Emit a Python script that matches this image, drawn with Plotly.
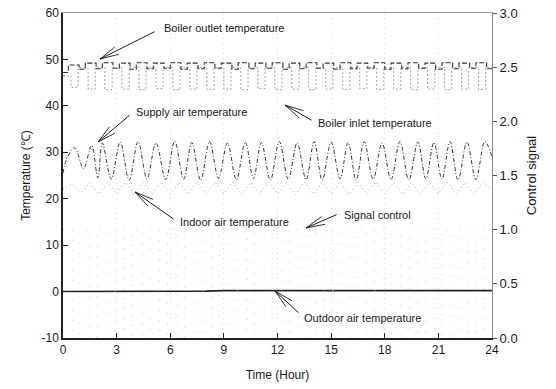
import math
import plotly.graph_objects as go

# ---------------- data ----------------
supply_t = [0.0, 0.2, 0.65, 1.15, 1.6, 1.95, 2.2, 2.7, 3.2, 3.7, 4.2, 4.7, 5.2, 5.75,
            6.25, 6.75, 7.2, 7.7, 8.2, 8.7, 9.2, 9.7, 10.2, 10.65, 11.1, 11.6, 12.1,
            12.6, 13.1, 13.6, 14.05, 14.5, 15.0, 15.5, 15.95, 16.4, 16.85, 17.35,
            17.85, 18.35, 18.85, 19.35, 19.85, 20.3, 20.75, 21.2, 21.65, 22.1, 22.6,
            23.1, 23.6, 24.0]
supply_v = [25.5, 28.5, 31.0, 26.5, 31.5, 24.5, 32.0, 24.2, 32.2, 24.0, 32.3, 24.3, 32.0,
            24.1, 32.4, 24.2, 32.1, 24.0, 32.3, 24.4, 32.0, 24.1, 32.2, 24.3, 32.1,
            24.0, 32.3, 24.2, 32.0, 24.1, 32.3, 24.0, 32.2, 24.3, 32.1, 24.0, 32.3,
            24.2, 32.0, 24.1, 32.3, 24.0, 32.2, 24.3, 32.1, 24.2, 32.3, 24.0, 32.2,
            24.1, 32.3, 29.0]

outlet_t = [0.0, 0.3, 0.9, 1.25, 1.85, 2.2, 2.8, 3.15, 3.75, 4.1, 4.7, 5.05, 5.65, 6.0,
            6.6, 6.95, 7.55, 7.9, 8.5, 8.85, 9.45, 9.8, 10.4, 10.75, 11.35, 11.7, 12.3,
            12.65, 13.25, 13.6, 14.2, 14.55, 15.15, 15.5, 16.1, 16.45, 17.05, 17.4,
            18.0, 18.35, 18.95, 19.3, 19.9, 20.25, 20.85, 21.2, 21.8, 22.15, 22.75,
            23.1, 23.7, 24.0]
outlet_v = [47.2, 48.8, 47.9, 49.2, 48.0, 49.3, 48.1, 49.2, 47.9, 49.3, 48.0, 49.2, 48.1,
            49.3, 47.9, 49.2, 48.0, 49.3, 48.1, 49.2, 47.9, 49.3, 48.0, 49.2, 48.1,
            49.3, 47.9, 49.2, 48.0, 49.3, 48.1, 49.2, 47.9, 49.3, 48.0, 49.2, 48.1,
            49.3, 47.9, 49.2, 48.0, 49.3, 48.1, 49.2, 47.9, 49.3, 48.0, 49.2, 48.1,
            49.3, 48.0, 48.0]

inlet_t = [0.0, 0.45, 0.85, 1.4, 1.8, 2.35, 2.75, 3.3, 3.7, 4.25, 4.65, 5.2, 5.6, 6.15,
           6.55, 7.1, 7.5, 8.05, 8.45, 9.0, 9.4, 9.95, 10.35, 10.9, 11.3, 11.85, 12.25,
           12.8, 13.2, 13.75, 14.15, 14.7, 15.1, 15.65, 16.05, 16.6, 17.0, 17.55, 17.95,
           18.5, 18.9, 19.45, 19.85, 20.4, 20.8, 21.35, 21.75, 22.3, 22.7, 23.25,
           23.65, 24.0]
inlet_v = [46.5, 44.0, 48.2, 43.6, 48.3, 43.5, 48.2, 43.6, 48.3, 43.5, 48.2, 43.7, 48.3,
           43.5, 48.2, 43.6, 48.3, 43.5, 48.2, 43.6, 48.3, 43.5, 48.2, 43.7, 48.3,
           43.5, 48.2, 43.6, 48.3, 43.5, 48.2, 43.6, 48.3, 43.5, 48.2, 43.7, 48.3,
           43.5, 48.2, 43.6, 48.3, 43.5, 48.2, 43.6, 48.3, 43.5, 48.2, 43.6, 48.3,
           43.5, 48.2, 48.2]

indoor_t = [0.0, 0.5, 1.0, 1.5, 2.0, 2.5, 3.0, 3.5, 4.0, 4.5, 5.0, 5.5, 6.0, 6.5, 7.0,
            7.5, 8.0, 8.5, 9.0, 9.5, 10.0, 10.5, 11.0, 11.5, 12.0, 12.5, 13.0, 13.5,
            14.0, 14.5, 15.0, 15.5, 16.0, 16.5, 17.0, 17.5, 18.0, 18.5, 19.0, 19.5,
            20.0, 20.5, 21.0, 21.5, 22.0, 22.5, 23.0, 23.5, 24.0]
indoor_v = [22.0, 23.2, 21.3, 23.4, 21.0, 23.5, 21.1, 23.6, 20.9, 23.5, 21.0, 23.6, 21.1,
            23.5, 20.9, 23.6, 21.0, 23.5, 21.1, 23.6, 20.9, 23.5, 21.0, 23.6, 21.1,
            23.5, 20.9, 23.6, 21.0, 23.5, 21.1, 23.6, 20.9, 23.5, 21.0, 23.6, 21.1,
            23.5, 20.9, 23.6, 21.0, 23.5, 21.1, 23.6, 20.9, 23.5, 21.0, 23.6, 22.0]

signal_t = [0.0, 0.55, 0.95, 1.5, 1.9, 2.45, 2.9, 3.45, 3.9, 4.45, 4.85, 5.4, 5.85, 6.4,
            6.8, 7.35, 7.8, 8.35, 8.75, 9.3, 9.75, 10.3, 10.7, 11.25, 11.7, 12.25,
            12.65, 13.2, 13.65, 14.2, 14.6, 15.1, 15.55, 16.05, 16.5, 17.0, 17.45,
            17.95, 18.4, 18.9, 19.35, 19.85, 20.3, 20.8, 21.2, 21.7, 22.15, 22.65,
            23.1, 23.6, 24.0]
signal_v = [1, 0, 1, 0, 1, 0, 1, 0, 1, 0, 1, 0, 1, 0, 1, 0, 1, 0, 1, 0, 1, 0, 1, 0, 1,
            0, 1, 0, 1, 0, 1, 0, 1, 0, 1, 0, 1, 0, 1, 0, 1, 0, 1, 0, 1, 0, 1, 0, 1, 0, 0]

outdoor_t = [0, 1, 2, 3, 4, 5, 6, 7, 8, 9, 10, 11, 12, 13, 14, 15, 16, 17, 18, 19, 20,
             21, 22, 23, 24]
outdoor_v = [0.0, 0.0, 0.1, 0.1, 0.1, 0.1, 0.1, 0.1, 0.1, 0.2, 0.2, 0.1, 0.1, 0.1, 0.1,
             0.1, 0.1, 0.1, 0.1, 0.1, 0.1, 0.2, 0.2, 0.2, 0.2]

x_ticks = [0, 3, 6, 9, 12, 15, 18, 21, 24]
y_ticks = [-10, 0, 10, 20, 30, 40, 50, 60]
y2_ticks = [0.0, 0.5, 1.0, 1.5, 2.0, 2.5, 3.0]

labels = ["Boiler outlet temperature", "Supply air temperature",
          "Boiler inlet temperature", "Indoor air temperature",
          "Signal control", "Outdoor air temperature"]

# ---------------- figure ----------------
FONT = "Liberation Sans, Arial, sans-serif"
fig = go.Figure()

fig.add_trace(go.Scatter(x=signal_t, y=signal_v, yaxis="y2", mode="lines",
                         line=dict(shape="hv", color="#cfcfcf", width=1,
                                   dash="1px,9px"),
                         name=labels[4]))
fig.add_trace(go.Scatter(x=indoor_t, y=indoor_v, mode="lines",
                         line=dict(color="#a8a8a8", width=1, dash="1px,3px"),
                         name=labels[3]))
fig.add_trace(go.Scatter(x=inlet_t, y=inlet_v, mode="lines",
                         line=dict(shape="hv", color="#a0a0a0", width=1,
                                   dash="2px,2px"),
                         name=labels[2]))
fig.add_trace(go.Scatter(x=outlet_t, y=outlet_v, mode="lines",
                         line=dict(shape="hv", color="#333333", width=1.1,
                                   dash="5px,2px"),
                         name=labels[0]))
fig.add_trace(go.Scatter(x=supply_t, y=supply_v, mode="lines",
                         line=dict(shape="spline", smoothing=1.0, color="#3a3a3a",
                                   width=1, dash="4px,2px,1px,2px"),
                         name=labels[1]))
fig.add_trace(go.Scatter(x=outdoor_t, y=outdoor_v, mode="lines",
                         line=dict(color="#222222", width=1.6),
                         name=labels[5]))

# ---------------- annotations ----------------
L, R, T, B = 63, 64, 13, 51
W, H = 556, 389
pw, ph = W - L - R, H - T - B


def px2x(px):
    return (px - L) / pw * 24.0


def py2y(py):
    return 60.0 - (py - T) / ph * 70.0


# (text left px, text center y px, arrow tip px, arrow tail px)
ann_geo = [
    (162, 28, (100, 59), (156, 31)),
    (134, 112, (98, 142), (131, 114)),
    (316, 123, (285, 105), (313, 121)),
    (178, 222, (135, 192), (175, 220)),
    (342, 215, (306, 228), (338, 214)),
    (302, 318, (275, 291), (300, 314)),
]

annotations = []
for text, (tx, ty, tip, tail) in zip(labels, ann_geo):
    annotations.append(dict(x=px2x(tx), y=py2y(ty), xref="x", yref="y", text=text,
                            showarrow=False, xanchor="left", yanchor="middle",
                            font=dict(family=FONT, size=11, color="#1a1a1a")))
    ax, ay = tail[0] - tip[0], tail[1] - tip[1]
    annotations.append(dict(x=px2x(tip[0]), y=py2y(tip[1]), xref="x", yref="y",
                            text="", showarrow=True, arrowhead=0, arrowwidth=1,
                            arrowcolor="#1a1a1a", ax=ax, ay=ay))
    ang = math.atan2(ay, ax)
    for d in (-0.22, 0.22):
        a2 = ang + d
        annotations.append(dict(x=px2x(tip[0]), y=py2y(tip[1]), xref="x", yref="y",
                                text="", showarrow=True, arrowhead=0, arrowwidth=0.9,
                                arrowcolor="#1a1a1a", ax=21 * math.cos(a2),
                                ay=21 * math.sin(a2)))

fig.update_layout(
    width=W, height=H,
    margin=dict(l=L, r=R, t=T, b=B, autoexpand=False),
    paper_bgcolor="white", plot_bgcolor="white",
    showlegend=False,
    font=dict(family=FONT, size=12, color="#1a1a1a"),
    annotations=annotations,
    xaxis=dict(range=[0, 24], tickvals=x_ticks, ticktext=[str(v) for v in x_ticks],
               ticks="inside", ticklen=5, tickcolor="#222", showline=True,
               linecolor="#222", linewidth=1.5, mirror=False, automargin=False,
               showgrid=True, gridcolor="#dcdcdc", griddash="1px,4px", gridwidth=1,
               zeroline=False, tickfont=dict(size=12),
               title=dict(text="Time (Hour)", font=dict(size=12), standoff=14)),
    xaxis2=dict(range=[0, 24], overlaying="x", side="top", showline=True,
                linecolor="#9a9a9a", linewidth=1, showticklabels=False, ticks="",
                showgrid=False, zeroline=False, automargin=False),
    yaxis=dict(range=[-10, 60], tickvals=y_ticks, ticktext=[str(v) for v in y_ticks],
               ticks="inside", ticklen=5, tickcolor="#222", showline=True,
               linecolor="#222", linewidth=1.5, showgrid=False, zeroline=False,
               automargin=False, tickfont=dict(size=12),
               title=dict(text="Temperature (℃)", font=dict(size=12), standoff=8)),
    yaxis2=dict(range=[0, 3], tickvals=y2_ticks,
                ticktext=["%.1f" % v for v in y2_ticks], overlaying="y", side="right",
                ticks="outside", ticklen=4, tickcolor="#555", showline=True,
                linecolor="#8a8a8a", linewidth=1, showgrid=False, zeroline=False,
                automargin=False, tickfont=dict(size=13),
                title=dict(text="Control signal", font=dict(size=13), standoff=10)),
)

# invisible trace to activate top frame axis
fig.add_trace(go.Scatter(x=[0, 24], y=[None, None], xaxis="x2", mode="lines",
                         showlegend=False, hoverinfo="skip"))

fig.write_html("out.html", config={"displayModeBar": False},
               post_script="document.body.style.margin='0';"
                           "document.body.style.overflow='hidden';")
